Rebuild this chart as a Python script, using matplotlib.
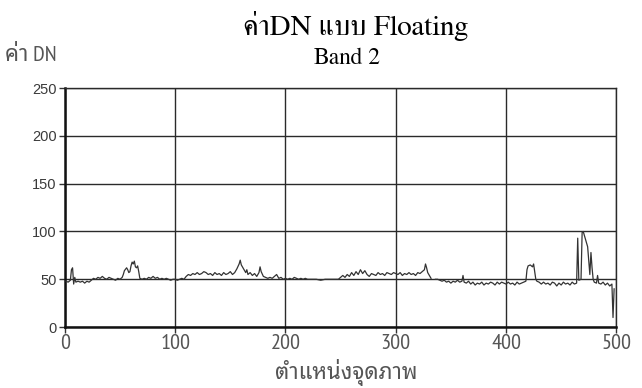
import numpy as np
import matplotlib
matplotlib.use("Agg")
import matplotlib.pyplot as plt

# pixel position along the line and its DN value (nan = no data)
pos = [1, 3, 5, 6, 7, 8, 9, 10, 12, 14, 16, 18, 20, 22, 24, 26, 28, 30, 32, 34,
       36, 38, 40, 42, 44, 46, 48, 50, 52, 53, 54, 56, 57, 58, 59, 60, 61, 62, 63, 64,
       65, 66, 67, 68, 70, 72, 74, 76, 78, 80, 82, 84, 86, 88, 90, 92, 94, 96, 98, 100,
       102, 104, 106, 108, 110, 112, 114, 116, 118, 120, 122, 124, 126, 128, 130, 132, 134, 136, 138, 140,
       142, 144, 146, 148, 150, 152, 154, 156, 158, 159, 160, 162, 164, 165, 166, 168, 170, 172, 174, 176,
       177, 178, 180, 182, 184, 186, 188, 190, 192, 194, 196, 198, 200, 202, 204, 206, 208, 210, 212, 214,
       216, 218, 220, 224, 228, 232, 236, 240, 244, 248, 250, 252, 254, 256, 258, 260, 262, 264, 266, 268,
       270, 272, 274, 276, 278, 280, 282, 284, 286, 288, 290, 292, 294, 296, 298, 300, 302, 304, 306, 308,
       310, 312, 314, 316, 318, 320, 322, 324, 326, 327, 328, 329, 330, 332, 334, 336, 338, 340, 342, 344,
       346, 348, 350, 352, 354, 356, 358, 360, 361, 362, 364, 366, 368, 370, 372, 374, 376, 378, 380, 382,
       384, 386, 388, 390, 392, 394, 396, 398, 400, 402, 404, 406, 408, 410, 412, 414, 416, 418, 419, 420,
       422, 424, 425, 426, 427, 428, 430, 432, 434, 436, 438, 440, 442, 444, 446, 448, 450, 452, 454, 456,
       458, 460, 462, 464, 465, 466, 468, 469, 470, 471, 472, 473, 474, 475, 476, 477, 478, 479, 480, 482,
       483, 484, 486, 488, 490, 492, 494, 496, 497, 498]
dn = [48, 47, 49, 60, 62, 45, 52, 47, 48, 47, 48, 46, 48, 47, 49, 51, 50, 52, 51, 53,
      51, 50, 52, 51, 50, 49, 51, 50, 52, 55, 59, 62, 60, 57, 58, 64, 68, 66, 69, 63,
      62, 64, 58, 51, 50, 51, 50, 52, 51, 53, 51, 52, 50, 51, 50, 51, 50, 49, 50, 50,
      49, 50, 51, 50, 53, 55, 54, 56, 55, 57, 55, 56, 58, 57, 55, 56, 54, 57, 55, 56,
      54, 57, 55, 56, 58, 55, 57, 61, 66, 70, 65, 61, 57, 60, 55, 57, 54, 56, 53, 57,
      63, 58, 53, 52, 51, 52, 51, 53, 55, 51, 52, 50, 51, 50, 51, 50, 52, 51, 50, 51,
      50, 51, 50, 50, 50, 49, 50, 50, 50, 50, 52, 54, 52, 55, 53, 57, 54, 58, 55, 60,
      56, 59, 55, 53, 56, 55, 54, 57, 55, 56, 54, 57, 56, 55, 57, 56, 55, 57, 54, 56,
      55, 57, 55, 56, 54, 57, 56, 58, 60, 66, 62, 57, 55, 51, np.nan, 50, 50, 49, 48, 49,
      47, 48, 46, 48, 47, 49, 47, 48, 54, 47, 46, 48, 45, 47, 44, 46, 45, 47, 44, 46,
      45, 47, 46, 44, 47, 45, 47, 46, 45, 47, 45, 46, 44, 47, 45, 46, 47, 48, 60, 64,
      65, 63, 66, 58, 50, 48, 47, 45, 47, 45, 46, 44, 47, 46, 43, 46, 44, 47, 45, 46,
      44, 47, 45, 46, 93, 49, 50, 99, 100, 96, 92, 88, 84, 70, 55, 78, 62, 50, 47, 46,
      54, 46, 45, 47, 44, 46, 43, 45, 10, 40]

xticks = [0, 100, 200, 300, 400, 500]
yticks = [0, 50, 100, 150, 200, 250]

sans = ["Liberation Sans", "Noto Sans Thai Looped"]
narrow = ["PT Sans Narrow", "Noto Sans Thai Looped"]
serif = ["FreeSerif"]

fig = plt.figure(figsize=(6.42, 3.88), dpi=100)
ax = fig.add_axes([0.101, 0.157, 0.859, 0.616])

ax.plot(pos, dn, color="#333333", lw=0.9, zorder=3)

ax.set_xlim(0, 500)
ax.set_ylim(0, 250)
ax.set_xticks(xticks)
ax.set_yticks(yticks)
ax.grid(True, color="#2a2a2a", lw=1.0)
ax.set_axisbelow(True)
for s in ["top", "right"]:
    ax.spines[s].set_linewidth(1.0)
    ax.spines[s].set_color("#2a2a2a")
for s in ["left", "bottom"]:
    ax.spines[s].set_linewidth(1.8)
    ax.spines[s].set_color("#111111")
ax.tick_params(direction="out", length=4, width=1, color="#333333")
ax.tick_params(axis="x", pad=1)
ax.tick_params(axis="y", pad=2)
for lab in ax.get_xticklabels():
    lab.set_fontfamily(narrow)
    lab.set_fontsize(16)
    lab.set_color("#555555")
for lab in ax.get_yticklabels():
    lab.set_fontfamily(sans)
    lab.set_fontsize(10.5)
    lab.set_color("#3a3a3a")

fig.text(0.553, 0.933, "ค่าDN แบบ Floating", family=serif, fontsize=21, ha="center", va="center")
fig.text(0.54, 0.85, "Band 2", family=serif, fontsize=17, ha="center", va="center")
fig.text(0.008, 0.858, "ค่า DN", family=narrow, fontsize=16, ha="left", va="center", color="#555555")
fig.text(0.54, 0.04, "ตำแหน่งจุดภาพ", family=narrow, fontsize=16, ha="center", va="center", color="#555555")

fig.savefig("out.png", dpi=100)
